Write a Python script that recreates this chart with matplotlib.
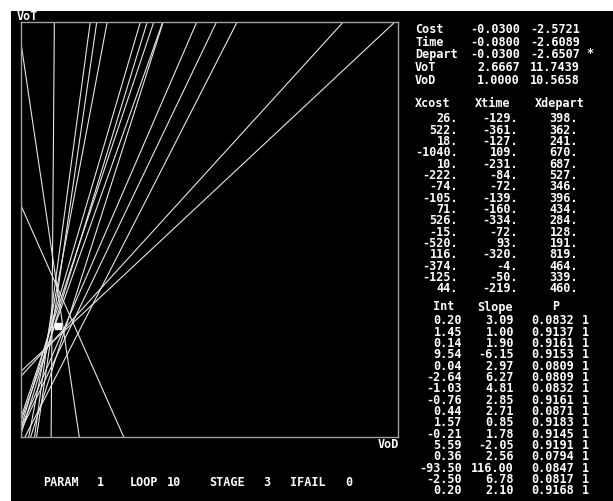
import matplotlib; matplotlib.use("Agg")
import numpy as np
import matplotlib.pyplot as plt
from matplotlib.patches import Rectangle
from matplotlib.font_manager import FontProperties

# ---- data ----
coef_names = ["Cost", "Time", "Depart"]
coef_a = [-0.0300, -0.0800, -0.0300]
coef_b = [-2.5721, -2.6089, -2.6507]
vot = [2.6667, 11.7439]
vod = [1.0000, 10.5658]

xcost = [26, 522, 18, -1040, 10, -222, -74, -105, 71, 526, -15, -520, 116, -374, -125, 44]
xtime = [-129, -361, -127, 109, -231, -84, -72, -139, -160, -334, -72, 93, -320, -4, -50, -219]
xdepart = [398, 362, 241, 670, 687, 527, 346, 396, 434, 284, 128, 191, 819, 464, 339, 460]

intercepts = [0.20, 1.45, 0.14, 9.54, 0.04, -2.64, -1.03, -0.76, 0.44, 1.57, -0.21, 5.59,
              0.36, -93.50, -2.50, 0.20]
slopes = [3.09, 1.00, 1.90, -6.15, 2.97, 6.27, 4.81, 2.85, 2.71, 0.85, 1.78, -2.05,
          2.56, 116.00, 6.78, 2.10]
probs = [0.0832, 0.9137, 0.9161, 0.9153, 0.0809, 0.0809, 0.0832, 0.9161, 0.0871, 0.9183,
         0.9145, 0.9191, 0.0794, 0.0847, 0.0817, 0.9168]
flags = [1, 1, 1, 1, 1, 1, 1, 1, 1, 1, 1, 1, 1, 1, 1, 1]

status_names = ["PARAM", "LOOP", "STAGE", "IFAIL"]
status_vals = [1, 10, 3, 0]

W, H = 613, 501
FS = 8.5
MONO = "DejaVu Sans Mono"
AXC = "#a0a0a0"

fig = plt.figure(figsize=(W / 100, H / 100), dpi=100, facecolor="white")
fig.patches.append(Rectangle((11 / W, 0), 1 - 11 / W, 1 - 11 / H, transform=fig.transFigure,
                             facecolor="black", edgecolor="none", zorder=-10))

fp = FontProperties(family=MONO, weight="bold", size=FS)
_, lp_h, lp_d = fig.canvas.get_renderer().get_text_width_height_descent("lp", fp, ismath=False)
ASC = lp_h - lp_d
EM = FS * 100 / 72

def put(x, y, s, ha="left"):
    fig.text(x / W, 1 - y / H, s, ha=ha, va="center", color="white", fontproperties=fp)

def column(x, y0, lines, pitch, ha="right"):
    # one multi-line text per column; y0 = centre of first row in pixels
    top = y0 + 0.365 * EM - ASC
    fig.text(x / W, 1 - top / H, "\n".join(lines), ha=ha, va="top", multialignment=ha,
             linespacing=(pitch - lp_d) / ASC, color="white", fontproperties=fp)

# ---- plot panel: VoT = Int + Slope * VoD ----
L, T, R, B = 20.7, 22, 398, 436.7
ax = fig.add_axes([L / W, 1 - B / H, (R - L) / W, (B - T) / H], facecolor="black")
xs = np.array([0.0, 10.0])
for a, b in zip(intercepts, slopes):
    ax.plot(xs, a + b * xs, color="#e6e6e6", lw=0.8)
ax.plot([vod[0]], [vot[0]], marker="s", ms=3.8, color="white", mec="white")
ax.set_xlim(0, 10); ax.set_ylim(0, 10)
ax.set_xticks([]); ax.set_yticks([])
for sp in ax.spines.values():
    sp.set_color(AXC); sp.set_linewidth(1.0)

put(17, 16, "VoT")
put(399, 444, "VoD", ha="right")

# ---- coefficient block ----
column(415, 29, coef_names, 12.5, ha="left")
column(520, 29, [f"{a:.4f}" for a in coef_a], 12.5)
column(580, 29, [f"{b:.4f}" for b in coef_b], 12.5)
put(590, 54, "*", ha="center")
column(415, 67, ["VoT", "VoD"], 12.5, ha="left")
column(520, 67, [f"{vot[0]:.4f}", f"{vod[0]:.4f}"], 12.5)
column(580, 67, [f"{vot[1]:.4f}", f"{vod[1]:.4f}"], 12.5)

# ---- X table ----
put(415, 104, "Xcost"); put(475, 104, "Xtime"); put(535, 104, "Xdepart")
column(458, 118, [f"{c}." for c in xcost], 11.33)
column(518, 118, [f"{t}." for t in xtime], 11.33)
column(578, 118, [f"{d}." for d in xdepart], 11.33)

# ---- Int / Slope / P table ----
put(433, 307, "Int"); put(477, 307, "Slope"); put(556, 307, "P", ha="center")
column(462, 320, [f"{a:.2f}" for a in intercepts], 11.33)
column(514, 320, [f"{b:.2f}" for b in slopes], 11.33)
column(574, 320, [f"{p:.4f}" for p in probs], 11.33)
column(589, 320, [str(f) for f in flags], 11.33)

# ---- status line ----
name_x = [43, 130, 209, 290]
val_x = [97, 167, 263, 345]
for n, v, xn, xv in zip(status_names, status_vals, name_x, val_x):
    put(xn, 482, n)
    put(xv, 482, str(v))

fig.savefig("out.png", dpi=100, facecolor="white")
